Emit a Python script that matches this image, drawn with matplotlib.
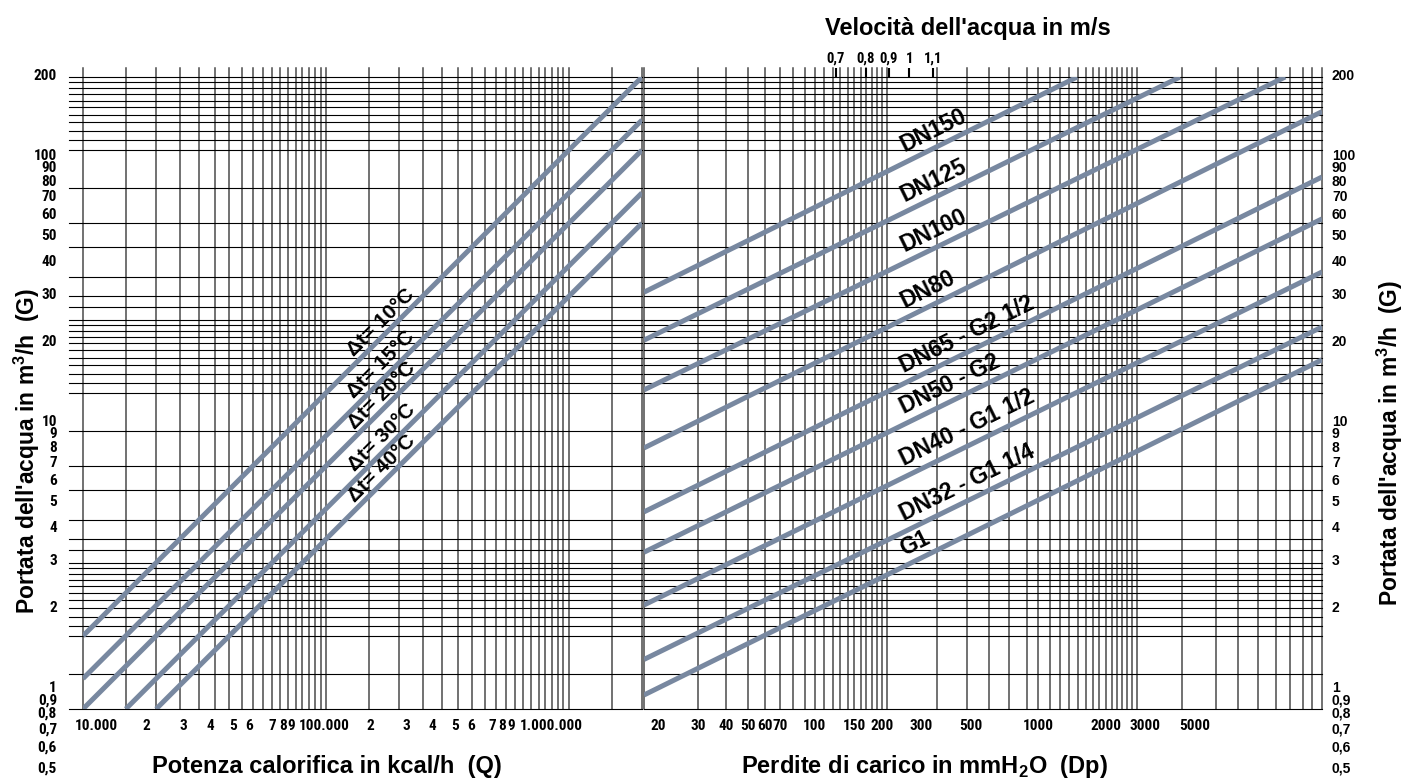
import numpy as np
import matplotlib.pyplot as plt
from matplotlib import font_manager
from matplotlib.ticker import NullLocator

# --- left diagram: heat output Q (kcal/h) vs water flow G (m3/h), one line per delta t
dt_values = [10, 15, 20, 30, 40]
dt_q_start = [1.0e4, 1.0e4, 1.0e4, 1.5e4, 2.0e4]
dt_g_start = [1.0, 0.667, 0.5, 0.5, 0.5]
dt_q_end = [2.0e6, 2.0e6, 2.0e6, 2.0e6, 2.0e6]
dt_g_end = [200, 133, 100, 66.7, 50]

# --- right diagram: pressure drop Dp (mmH2O) vs water flow G, one line per pipe size
pipe_names = ['DN150', 'DN125', 'DN100', 'DN80', 'DN65 - G2 1/2', 'DN50 - G2',
              'DN40 - G1 1/2', 'DN32 - G1 1/4', 'G1']
pipe_dp_start = [17.2, 17.2, 17.2, 17.2, 17.2, 17.2, 17.2, 17.2, 17.2]
pipe_g_start = [26.0, 16.5, 10.3, 5.94, 3.24, 2.21, 1.34, 0.80, 0.571]
pipe_dp_end = [1490, 4300, 12700, 18550, 18550, 18550, 18550, 18550, 18550]
pipe_g_end = [200, 200, 200, 144, 77.5, 52.1, 31.5, 18.7, 13.7]

# --- scale labels as printed on the chart
g_labels = [200, 100, 90, 80, 70, 60, 50, 40, 30, 20, 10, 9, 8, 7, 6, 5, 4, 3, 2, 1,
            0.9, 0.8, 0.7, 0.6, 0.5]
q_label_text = ['10.000', '2', '3', '4', '5', '6', '7', '8', '9', '100.000',
                '2', '3', '4', '5', '6', '7', '8', '9', '1.000.000']
q_label_pos = [1.14e4, 1.83e4, 2.58e4, 3.33e4, 4.14e4, 4.82e4, 6.0e4, 6.65e4, 7.18e4, 9.8e4,
               1.52e5, 2.14e5, 2.73e5, 3.4e5, 3.95e5, 4.82e5, 5.3e5, 5.8e5, 8.45e5]
dp_ticks = [20, 30, 40, 50, 60, 70, 100, 150, 200, 300, 500, 1000, 2000, 3000, 5000]
vel_labels = ['0,7', '0,8', '0,9', '1', '1,1']
vel_dp = [124, 169, 214, 264, 337]

# log paper rulings
decade = np.r_[np.linspace(1, 2, 11), 2.25, 2.5, 3, 4, 5, 7]
g_grid = np.r_[0.5, 0.7, decade, decade * 10, np.linspace(100, 200, 11)]
q_grid = np.r_[np.arange(1, 10, 0.5) * 1e4, np.arange(1, 10, 0.5) * 1e5, 1e6, 1.5e6, 2e6]
dp_grid = np.r_[17.2, np.arange(30, 90, 10), np.arange(90, 211, 10), 350, 480, 600, 740, 890,
                np.arange(1000, 2751, 125), 4400, 6200, 7800, 9600, 11500, 13400, 15200,
                16800, 18550]

names = {f.name for f in font_manager.fontManager.ttflist}
narrow = next((n for n in ('Liberation Sans Narrow', 'DejaVu Sans Condensed', 'Roboto Condensed')
               if n in names), 'Liberation Sans')

plt.rcParams['font.family'] = ['Liberation Sans', 'DejaVu Sans']
plt.rcParams['mathtext.fontset'] = 'custom'
plt.rcParams['mathtext.rm'] = 'Liberation Sans:bold'
plt.rcParams['mathtext.bf'] = 'Liberation Sans:bold'

CURVE = '#7888a0'
W, H = 1405, 781
fig = plt.figure(figsize=(W / 100, H / 100), dpi=100)
bot, hgt = (H - 709) / H, 632 / H
ax1 = fig.add_axes([83 / W, bot, 559 / W, hgt])
ax2 = fig.add_axes([644 / W, bot, 678 / W, hgt])

for ax, xlim in ((ax1, (1e4, 2e6)), (ax2, (17.2, 18550))):
    ax.set_xscale('log')
    ax.set_yscale('log')
    ax.set_xlim(*xlim)
    ax.set_ylim(0.5, 200)
    ax.xaxis.set_minor_locator(NullLocator())
    ax.yaxis.set_minor_locator(NullLocator())
    ax.set_yticks([])
    for s in ax.spines.values():
        s.set_visible(False)


def draw_grid(ax, xs, ys, left_ext):
    for x in xs:
        ax.axvline(x, ymin=0, ymax=1.014, color='#4a4a4a', lw=1.1, clip_on=False, zorder=1)
    for y in ys:
        ax.axhline(y, xmin=-left_ext, xmax=1, color='black', lw=0.8, clip_on=False, zorder=1)


draw_grid(ax1, q_grid, g_grid, 14 / 559)
draw_grid(ax2, dp_grid, g_grid, 0)


def along(x0, y0, x1, y1, x):
    t = np.log(x / x0) / np.log(x1 / x0)
    return y0 * (y1 / y0) ** t


def screen_angle(ax, x0, y0, x1, y1):
    (a, b), (c, d) = ax.transData.transform([(x0, y0), (x1, y1)])
    return np.degrees(np.arctan2(d - b, c - a))


for dt, qs, gs, qe, ge in zip(dt_values, dt_q_start, dt_g_start, dt_q_end, dt_g_end):
    ax1.plot([qs, qe], [gs, ge], color=CURVE, lw=3.6, solid_capstyle='butt', zorder=3)
    ang = screen_angle(ax1, qs, gs, qe, ge)
    r = np.radians(ang)
    q = 1.82e5
    ax1.annotate(f'Δt= {dt}°C', (q, along(qs, gs, qe, ge, q)),
                 xytext=(-8 * np.sin(r), 8 * np.cos(r)), textcoords='offset points',
                 rotation=ang, rotation_mode='anchor', ha='center', va='center',
                 fontsize=15, fontweight='bold', zorder=4)

for name, ds, gs, de, ge in zip(pipe_names, pipe_dp_start, pipe_g_start, pipe_dp_end, pipe_g_end):
    ax2.plot([ds, de], [gs, ge], color=CURVE, lw=3.6, solid_capstyle='butt', zorder=3)
    ang = screen_angle(ax2, ds, gs, de, ge)
    r = np.radians(ang)
    d = 262
    ax2.annotate(name, (d, along(ds, gs, de, ge, d)),
                 xytext=(-7 * np.sin(r), 7 * np.cos(r)), textcoords='offset points',
                 rotation=ang, rotation_mode='anchor', ha='left', va='baseline',
                 fontsize=16.5, fontweight='bold', zorder=4)

# bottom scales
ax1.set_xticks(q_label_pos, q_label_text, fontfamily=narrow, fontweight='bold', fontsize=11)
ax2.set_xticks(dp_ticks, [str(v) for v in dp_ticks], fontfamily=narrow, fontweight='bold',
               fontsize=11)
for ax in (ax1, ax2):
    ax.xaxis.set_minor_locator(NullLocator())
    ax.tick_params(axis='x', length=0, pad=7)

# ordinate labels (printed with a slightly wider spacing than the ruling)
lab_step = 266 / 632
for v in g_labels:
    f = 1 + 1 / 632 - lab_step * np.log10(200 / v)
    s = f'{v:g}'.replace('.', ',')
    ax1.text(-26 / 559, f, s, transform=ax1.transAxes, ha='right', va='center',
             fontsize=11, fontweight='bold', family=narrow)
    ax2.text(1.0147, f, s, transform=ax2.transAxes, ha='left', va='center',
             fontsize=10, fontweight='bold')

# velocity scale on top of the right diagram
axv = ax2.twiny()
axv.set_xscale('log')
axv.set_xlim(ax2.get_xlim())
axv.set_xticks(vel_dp, vel_labels, fontsize=10.5, fontweight='bold', fontfamily=narrow)
axv.xaxis.set_minor_locator(NullLocator())
axv.tick_params(axis='x', direction='out', length=6.5, width=1.5, pad=1.5)
for s in axv.spines.values():
    s.set_visible(False)

tkw = dict(fontsize=17, fontweight='bold', ha='center', va='center')
fig.text(968 / W, 1 - 28 / H, "Velocità dell'acqua in m/s", **tkw)
fig.text(327 / W, 1 - 767 / H, 'Potenza calorifica in kcal/h  (Q)', **tkw)
fig.text(924 / W, 1 - 767 / H, r'Perdite di carico in mmH$_\mathbf{2}$O  (Dp)', **tkw)
ylab = r"Portata dell'acqua in m$^\mathbf{3}$/h  (G)"
tkw['fontsize'] = 16.5
fig.text(27 / W, 1 - 451 / H, ylab, rotation=90, **tkw)
fig.text(1390 / W, 1 - 443 / H, ylab, rotation=90, **tkw)

fig.savefig('out.png', dpi=100, facecolor='white')
